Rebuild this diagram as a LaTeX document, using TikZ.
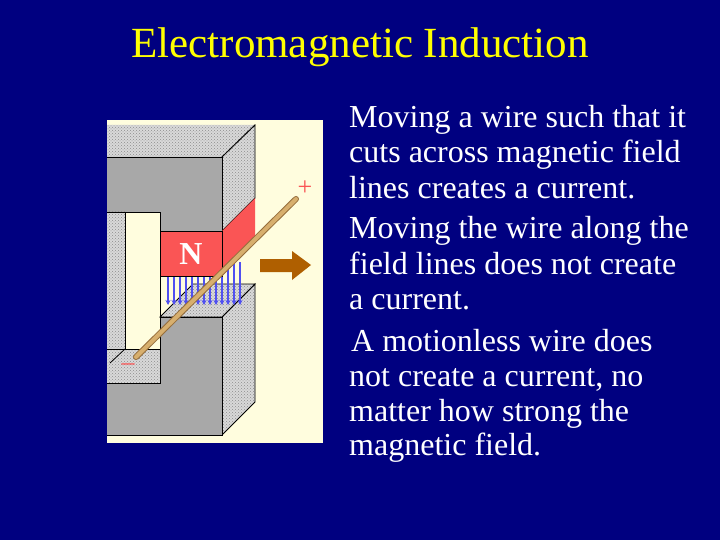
\documentclass[tikz,border=0pt]{standalone}
\usepackage{fontspec}
\setmainfont{Liberation Serif}
\usetikzlibrary{patterns,arrows.meta}
\definecolor{navy}{RGB}{0,0,128}
\definecolor{cream}{RGB}{255,253,222}
\definecolor{mgray}{RGB}{168,168,168}
\definecolor{nred}{RGB}{250,85,85}
\definecolor{wiretan}{RGB}{215,175,110}
\definecolor{wirebr}{RGB}{150,110,60}
\definecolor{arrbr}{RGB}{175,95,0}
\definecolor{fblue}{RGB}{80,80,240}
\definecolor{ttl}{RGB}{255,255,0}
\begin{document}
\begin{tikzpicture}[x=1pt,y=-1pt,
  body/.style={anchor=base west,text=white,font=\fontsize{32}{36}\selectfont,inner sep=0pt},
  face/.style={fill=mgray,draw=black,line width=0.8pt},
  chk/.style={fill=gray!30,pattern=crosshatch dots,pattern color=gray!90,draw=black,line width=0.8pt}]
\useasboundingbox (0,0) rectangle (720,540);
\fill[navy] (0,0) rectangle (720,540);
\node[text=ttl,font=\fontsize{43}{46}\selectfont,inner sep=0pt] (title) at (360,47) {Electromagnetic Induction};
% panel
\fill[cream] (107,120) rectangle (323,443);
\begin{scope}
\clip (107,120) rectangle (323,443);
% top face
\fill[gray!30] (60,157) -- (222,157) -- (255,125) -- (93,125) -- cycle;
\path[pattern=crosshatch dots,pattern color=gray!90] (60,157) -- (222,157) -- (255,125) -- (93,125) -- cycle;
\draw[line width=0.8pt] (222,157) -- (255,125);
% right face upper arm
\fill[gray!30] (222,157) -- (255,125) -- (255,198) -- (222,231) -- cycle;
\path[chk] (222,157) -- (255,125) -- (255,198) -- (222,231) -- cycle;
% lower pole right face
\fill[gray!30] (222,317) -- (255,284) -- (255,402) -- (222,435) -- cycle;
\path[chk] (222,317) -- (255,284) -- (255,402) -- (222,435) -- cycle;
% gap floor
\fill[gray!30] (160,317) -- (222,317) -- (255,284) -- (193,284) -- cycle;
\path[chk] (160,317) -- (222,317) -- (255,284) -- (193,284) -- cycle;
% front face: C shape
\path[face] (105,157) -- (222,157) -- (222,231) -- (160,231) -- (160,212) -- (125,212) -- (125,349) -- (160,349) -- (160,317) -- (222,317) -- (222,435) -- (105,435) -- cycle;
% inner left strip (visible inner face)
\fill[gray!30] (105,212) rectangle (125,349);
\path[pattern=crosshatch dots,pattern color=gray!90] (105,212) rectangle (125,349);
% lower arm top face
\fill[gray!30] (105,349) -- (160,349) -- (160,383) -- (105,383) -- cycle;
\path[chk] (105,349) -- (160,349) -- (160,383) -- (105,383) -- cycle;
\draw[line width=0.8pt] (105,383) -- (160,383) -- (160,317);
\draw[line width=0.8pt] (125,349) -- (110,363);
\draw[line width=0.8pt] (125,212) rectangle (160,349);
\draw[line width=0.8pt] (105,212) -- (125,212);
% field lines (behind magnet)
\foreach \x in {168,174,180,186,192,198,204,210,216,222,228,234,240}{
  \draw[fblue,line width=1.5pt,-{Stealth[length=5pt,width=5pt]}] (\x,262) -- (\x,305);}
% N magnet
\fill[nred] (222,231) -- (255,198) -- (255,243) -- (222,276) -- cycle;
\path[fill=nred,draw=black,line width=0.8pt] (160,231) rectangle (222,276);
\node[text=white,font=\bfseries\fontsize{32}{32}\selectfont,inner sep=0pt] (N) at (191,254) {N};
% wire
\coordinate (w1) at (136,357);
\coordinate (w2) at (296,199);
\draw[wirebr,line width=6pt,line cap=round] (w1) -- (w2);
\draw[wiretan,line width=4pt,line cap=round] (w1) -- (w2);
\end{scope}
\node[text=nred,font=\fontsize{26}{26}\selectfont,inner sep=0pt] (plus) at (305,188) {+};
\node[text=nred,font=\fontsize{26}{26}\selectfont,inner sep=0pt] (minus) at (128,367) {\textendash};
% motion arrow
\fill[arrbr] (260,259) -- (292,259) -- (292,251) -- (311,265) -- (292,280) -- (292,272) -- (260,272) -- cycle;
% text
\node[body] (l1) at (349,128) {Moving a wire such that it};
\node[body] (l2) at (349,163) {cuts across magnetic field};
\node[body] (l3) at (349,199) {lines creates a current.};
\node[body] (l4) at (349,239) {Moving the wire along the};
\node[body] (l5) at (349,274) {field lines does not create};
\node[body] (l6) at (349,309) {a current.};
\node[body] (l7) at (351,351) {A motionless wire does};
\node[body] (l8) at (349,386) {not create a current, no};
\node[body] (l9) at (349,421) {matter how strong the};
\node[body] (l10) at (349,455) {magnetic field.};
\end{tikzpicture}
\end{document}
